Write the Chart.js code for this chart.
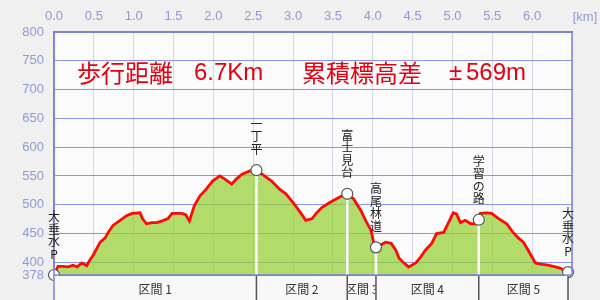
<!DOCTYPE html>
<html lang="ja">
<head>
<meta charset="utf-8">
<title>標高グラフ</title>
<script src="https://cdn.jsdelivr.net/npm/chart.js@4/dist/chart.umd.min.js"></script>
<style>
  html, body { margin: 0; padding: 0; background: #f0f0f0; }
</style>
</head>
<body>
<canvas id="profileChart" width="600" height="300"></canvas>
<script>
// elevation profile (distance in km, elevation in m)
const distKm = [0.00, 0.05, 0.11, 0.18, 0.24, 0.29, 0.35, 0.41, 0.45, 0.49, 0.58, 0.64, 0.68, 0.74, 0.83, 0.91, 0.98,
  1.08, 1.11, 1.16, 1.23, 1.29, 1.36, 1.43, 1.48, 1.60, 1.65, 1.70, 1.76, 1.83, 1.91, 1.99, 2.08, 2.14, 2.23, 2.29,
  2.36, 2.48, 2.54, 2.61, 2.73, 2.83, 2.91, 3.01, 3.10, 3.16, 3.24, 3.29, 3.36, 3.45, 3.54, 3.61, 3.68, 3.76, 3.85,
  3.91, 3.98, 4.01, 4.04, 4.10, 4.16, 4.23, 4.29, 4.33, 4.39, 4.45, 4.54, 4.60, 4.66, 4.74, 4.80, 4.89, 4.95, 5.01,
  5.05, 5.10, 5.16, 5.23, 5.29, 5.33, 5.35, 5.43, 5.49, 5.58, 5.68, 5.76, 5.83, 5.89, 5.95, 6.04, 6.11, 6.20, 6.29,
  6.35, 6.39, 6.45];
const elevM = [378, 393, 393, 392, 395, 392, 399, 394, 404, 412, 435, 442, 452, 464, 473, 481, 485,
  486, 476, 467, 469, 469, 472, 476, 485, 485, 483, 472, 498, 515, 527, 541, 550, 545, 536, 545,
  553, 560, 560, 553, 541, 527, 519, 502, 485, 473, 476, 485, 495, 503, 510, 515, 519, 510, 490,
  473, 455, 435, 426, 430, 435, 433, 421, 407, 399, 392, 399, 409, 421, 433, 450, 452, 469, 486,
  484, 469, 473, 467, 467, 474, 485, 486, 485, 476, 467, 452, 442, 435, 421, 399, 397, 395, 392,
  390, 387, 383];

// spots along the route
const spotNames = ["大垂水P", "一丁平", "富士見台", "高尾林道", "学習の路", "大垂水P"];
const spotKm = [0, 2.54, 3.68, 4.04, 5.33, 6.45];
const spotElev = [378, 560, 519, 426, 474, 383];

// sections between spots
const sectionNames = ["区間 1", "区間 2", "区間 3", "区間 4", "区間 5"];

const yTickValues = [378, 400, 450, 500, 550, 600, 650, 700, 750, 800];

const tickColor = "#8f9bd0";
const frameColor = "#7b80d8";
const cjkFont = '"Noto Sans CJK JP", "Noto Sans", sans-serif';

// draws background, spot lines and labels, section bar and title
const profileDecor = {
  id: "profileDecor",
  beforeDraw(chart) {
    const { ctx, chartArea: a } = chart;
    ctx.save();
    ctx.fillStyle = "#f0f0f0";
    ctx.fillRect(0, 0, chart.width, chart.height);
    ctx.fillStyle = "#fbfbfb";
    ctx.fillRect(a.left, a.top, a.right - a.left, a.bottom - a.top);
    ctx.restore();
  },
  beforeDatasetDraw(chart, args) {
    if (args.index !== 0) return; // only before the spot markers
    const { ctx, chartArea: a, scales: { x, y } } = chart;
    ctx.save();
    ctx.strokeStyle = "#ffffff";
    ctx.lineWidth = 2.5;
    spotKm.forEach((km, i) => {
      const px = x.getPixelForValue(km);
      ctx.beginPath();
      ctx.moveTo(px, y.getPixelForValue(spotElev[i]));
      ctx.lineTo(px, a.bottom);
      ctx.stroke();
    });
    ctx.restore();
  },
  afterDraw(chart) {
    const { ctx, chartArea: a, scales: { x, y } } = chart;
    ctx.save();

    // frame around the plot
    ctx.strokeStyle = frameColor;
    ctx.lineWidth = 1.5;
    ctx.strokeRect(a.left, a.top, a.right - a.left, a.bottom - a.top);

    // section bar under the plot
    const barTop = a.bottom + 1;
    const barBottom = chart.height;
    const endX = x.getPixelForValue(spotKm[spotKm.length - 1]);
    ctx.fillStyle = "#f8f8f8";
    ctx.fillRect(a.left, barTop, endX - a.left, barBottom - barTop);
    ctx.strokeStyle = frameColor;
    ctx.beginPath();
    ctx.moveTo(a.left, a.bottom);
    ctx.lineTo(a.left, barBottom);
    ctx.stroke();

    ctx.strokeStyle = "#555";
    ctx.lineWidth = 1.5;
    for (let i = 1; i < spotKm.length; i++) {
      const px = x.getPixelForValue(spotKm[i]);
      ctx.beginPath();
      ctx.moveTo(px, barTop);
      ctx.lineTo(px, barBottom);
      ctx.stroke();
    }

    ctx.font = "12px " + cjkFont;
    ctx.fillStyle = "#333";
    ctx.textAlign = "center";
    ctx.textBaseline = "middle";
    sectionNames.forEach((name, i) => {
      const x0 = x.getPixelForValue(spotKm[i]);
      const x1 = x.getPixelForValue(spotKm[i + 1]);
      ctx.save();
      ctx.beginPath();
      ctx.rect(x0 + 1, barTop, x1 - x0 - 2, barBottom - barTop);
      ctx.clip();
      ctx.fillText(name, (x0 + x1) / 2, barTop + 13);
      ctx.restore();
    });

    // vertical spot names above the markers
    ctx.fillStyle = "#222";
    ctx.font = "12px " + cjkFont;
    spotNames.forEach((name, i) => {
      const chars = Array.from(name);
      const px = x.getPixelForValue(spotKm[i]);
      const lastY = y.getPixelForValue(spotElev[i]) - 21;
      chars.forEach((c, j) => {
        ctx.fillText(c, px, lastY - (chars.length - 1 - j) * 12.5);
      });
    });

    // title
    ctx.fillStyle = "#e60012";
    ctx.textAlign = "left";
    ctx.font = "24px " + cjkFont;
    ctx.fillText("歩行距離", 77, 73);
    ctx.fillText("累積標高差", 302, 73);
    ctx.font = '24px "Liberation Sans", Arial, sans-serif';
    ctx.fillText("6.7Km", 194, 73);
    ctx.fillText("±", 449, 73);
    ctx.fillText("569m", 466, 73);

    // unit of the top axis
    ctx.fillStyle = tickColor;
    ctx.textAlign = "center";
    ctx.font = '13px "Liberation Sans", Arial, sans-serif';
    ctx.fillText("[km]", 585, 17);

    ctx.restore();
  },
};

const ctx = document.getElementById("profileChart").getContext("2d");
new Chart(ctx, {
  type: "line",
  data: {
    datasets: [
      {
        label: "地点",
        data: spotKm.map((km, i) => ({ x: km, y: spotElev[i] })),
        showLine: false,
        pointRadius: 5.5,
        pointHoverRadius: 5.5,
        pointBackgroundColor: "#ffffff",
        pointBorderColor: "#555555",
        pointBorderWidth: 1.2,
        clip: false,
        order: 0,
      },
      {
        label: "標高",
        data: distKm.map((km, i) => ({ x: km, y: elevM[i] })),
        borderColor: "#ff0a0a",
        borderWidth: 2.8,
        backgroundColor: "rgba(145, 205, 45, 0.7)",
        fill: "start",
        pointRadius: 0,
        tension: 0,
        order: 1,
      },
    ],
  },
  options: {
    responsive: false,
    animation: false,
    layout: { padding: { left: 0, right: 28, top: 0, bottom: 25 } },
    plugins: {
      legend: { display: false },
      tooltip: { enabled: false },
    },
    scales: {
      x: {
        type: "linear",
        position: "top",
        min: 0,
        max: 6.5,
        afterFit: (scale) => { scale.height = 32; },
        grid: { color: "#d3d9e8", drawTicks: false },
        border: { color: frameColor, width: 1.5 },
        ticks: {
          stepSize: 0.5,
          autoSkip: false,
          maxRotation: 0,
          padding: 8,
          color: tickColor,
          font: { family: '"Liberation Sans", Arial, sans-serif', size: 13 },
          callback: (v) => (v >= 6.5 ? "" : v.toFixed(1)),
        },
      },
      y: {
        min: 378,
        max: 800,
        afterFit: (scale) => { scale.width = 54; },
        afterBuildTicks: (scale) => {
          scale.ticks = yTickValues.map((v) => ({ value: v }));
        },
        grid: {
          color: (c) => (c.tick && c.tick.value === 378 ? frameColor : "#8a96e2"),
          drawTicks: false,
        },
        border: { color: frameColor, width: 1.5 },
        ticks: {
          autoSkip: false,
          padding: 10,
          color: tickColor,
          font: { family: '"Liberation Sans", Arial, sans-serif', size: 13 },
        },
      },
    },
  },
  plugins: [profileDecor],
});
</script>
</body>
</html>
